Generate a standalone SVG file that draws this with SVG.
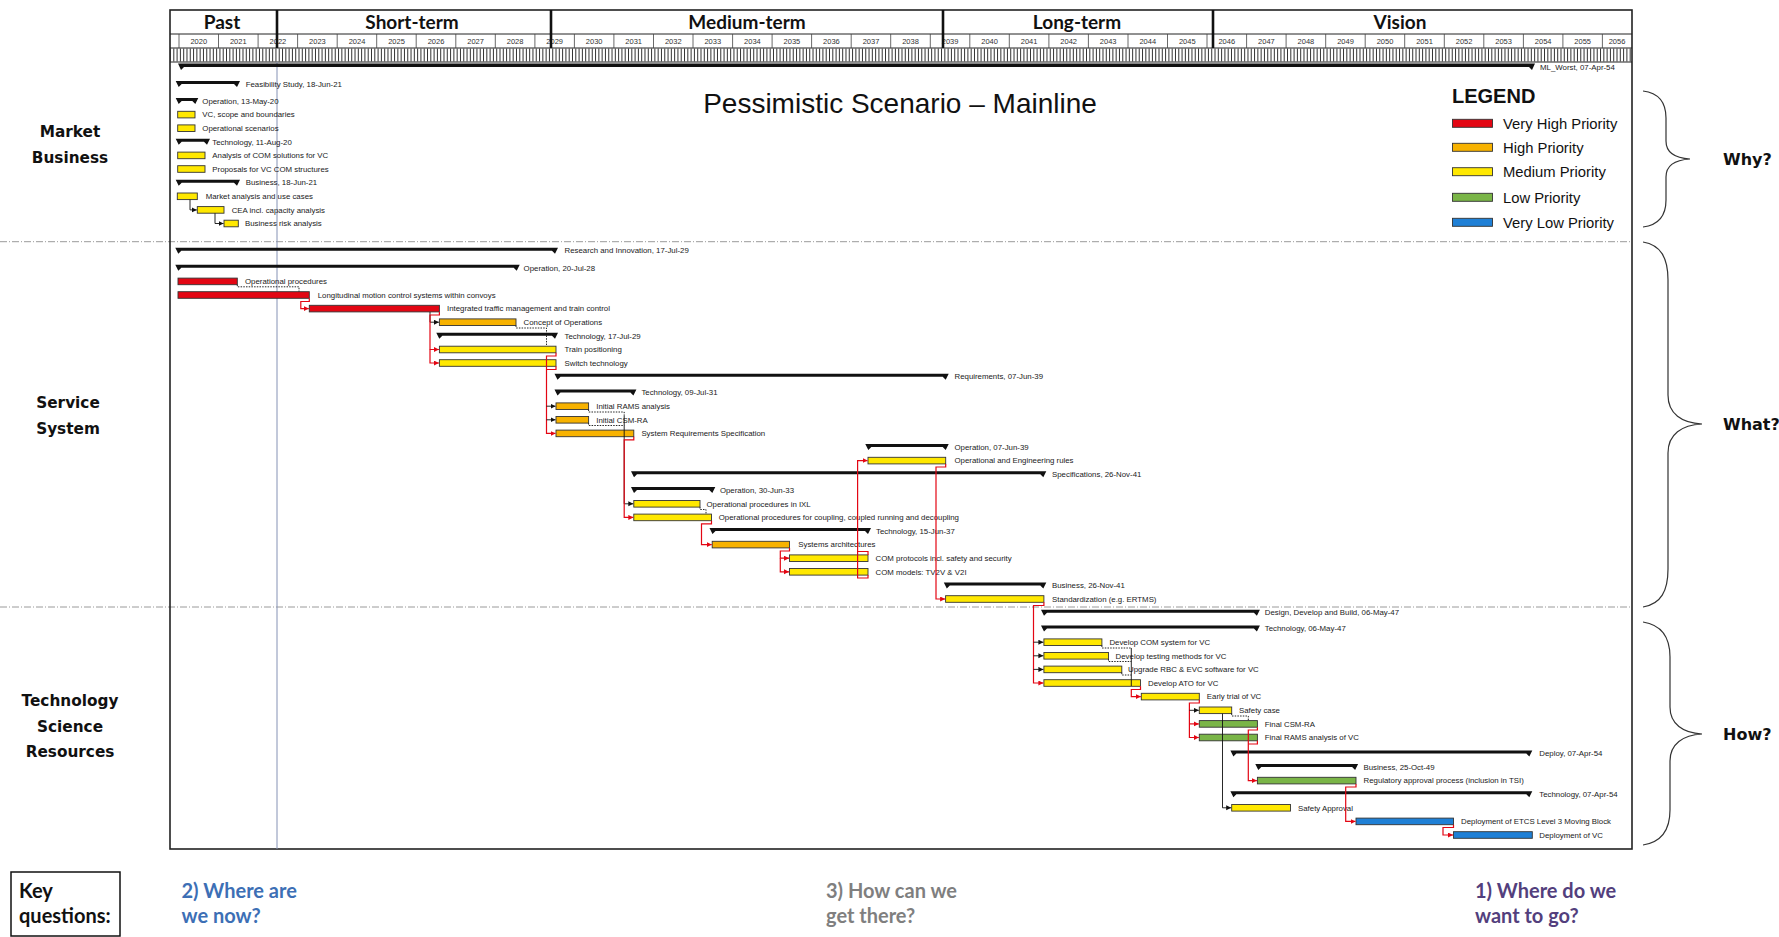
<svg xmlns="http://www.w3.org/2000/svg" width="1779" height="937" viewBox="0 0 1779 937">
<defs>
<marker id="ar" markerUnits="userSpaceOnUse" markerWidth="6" markerHeight="6" refX="5" refY="2.5" orient="auto"><path d="M0,0 L5,2.5 L0,5 Z" fill="#e30613"/></marker>
<marker id="ab" markerUnits="userSpaceOnUse" markerWidth="6" markerHeight="6" refX="5" refY="2.5" orient="auto"><path d="M0,0 L5,2.5 L0,5 Z" fill="#111"/></marker>
</defs>
<style>
.t{font-family:"Liberation Sans",Arial,sans-serif;font-size:7.85px;fill:#1a1a1a}
.yr{font-family:"Liberation Sans",Arial,sans-serif;font-size:7.5px;fill:#333;text-anchor:middle}
.ph{font-family:Lato,"Open Sans",sans-serif;font-weight:700;font-size:19px;fill:#111;text-anchor:middle}
.sec{font-family:"DejaVu Sans",Verdana,sans-serif;font-weight:700;font-size:15.3px;fill:#111;text-anchor:middle}
.q{font-family:"DejaVu Sans",Verdana,sans-serif;font-weight:700;font-size:16px;fill:#111}
.kq{font-family:Lato,"Open Sans",sans-serif;font-weight:700;font-size:20px}
.lg{font-family:"Liberation Sans",Arial,sans-serif;font-size:14.8px;fill:#111}
.sm{fill:#111}
.bar{stroke:#333;stroke-width:0.9}
.r{fill:#e30613}.o{fill:#f7b200}.y{fill:#ffe800}.g{fill:#7ab547}.b{fill:#1f80d6}
.lr{fill:none;stroke:#e30613;stroke-width:1.2;marker-end:url(#ar)}
.lrn{fill:none;stroke:#e30613;stroke-width:1.2}
.lb{fill:none;stroke:#111;stroke-width:0.9;marker-end:url(#ab)}
.lbn{fill:none;stroke:#111;stroke-width:0.9}
.ld{fill:none;stroke:#111;stroke-width:0.9;stroke-dasharray:1.5 1.2}
.dv{stroke:#9a9a9a;stroke-width:1;stroke-dasharray:7 2 1 2}
.br{fill:none;stroke:#333;stroke-width:1.2}
</style>
<rect width="1779" height="937" fill="#fff"/>

<!-- section dividers -->
<line class="dv" x1="0" y1="241.7" x2="1632" y2="241.7"/>
<line class="dv" x1="0" y1="607" x2="1632" y2="607"/>

<!-- timescale header -->
<g id="timescale">
<rect x="170" y="10" width="1462" height="839" fill="none" stroke="#222" stroke-width="1.6"/>
<line x1="170" y1="34" x2="1632" y2="34" stroke="#222" stroke-width="1"/>
<line x1="170" y1="48" x2="1632" y2="48" stroke="#222" stroke-width="1"/>
<line x1="170" y1="62" x2="1632" y2="62" stroke="#222" stroke-width="1"/>
<line x1="170" y1="55" x2="1632" y2="55" stroke="#333" stroke-width="13" stroke-dasharray="1 2.295"/>
<g stroke="#444" stroke-width="0.8">
<line x1="179" y1="34" x2="179" y2="48"/><line x1="218.5" y1="34" x2="218.5" y2="48"/><line x1="258.1" y1="34" x2="258.1" y2="48"/><line x1="297.6" y1="34" x2="297.6" y2="48"/><line x1="337.2" y1="34" x2="337.2" y2="48"/><line x1="376.7" y1="34" x2="376.7" y2="48"/><line x1="416.2" y1="34" x2="416.2" y2="48"/><line x1="455.8" y1="34" x2="455.8" y2="48"/><line x1="495.3" y1="34" x2="495.3" y2="48"/><line x1="534.9" y1="34" x2="534.9" y2="48"/><line x1="574.4" y1="34" x2="574.4" y2="48"/><line x1="613.9" y1="34" x2="613.9" y2="48"/><line x1="653.5" y1="34" x2="653.5" y2="48"/><line x1="693" y1="34" x2="693" y2="48"/><line x1="732.6" y1="34" x2="732.6" y2="48"/><line x1="772.1" y1="34" x2="772.1" y2="48"/><line x1="811.6" y1="34" x2="811.6" y2="48"/><line x1="851.2" y1="34" x2="851.2" y2="48"/><line x1="890.7" y1="34" x2="890.7" y2="48"/><line x1="930.3" y1="34" x2="930.3" y2="48"/><line x1="969.8" y1="34" x2="969.8" y2="48"/><line x1="1009.3" y1="34" x2="1009.3" y2="48"/><line x1="1048.9" y1="34" x2="1048.9" y2="48"/><line x1="1088.4" y1="34" x2="1088.4" y2="48"/><line x1="1128" y1="34" x2="1128" y2="48"/><line x1="1167.5" y1="34" x2="1167.5" y2="48"/><line x1="1207" y1="34" x2="1207" y2="48"/><line x1="1246.6" y1="34" x2="1246.6" y2="48"/><line x1="1286.1" y1="34" x2="1286.1" y2="48"/><line x1="1325.7" y1="34" x2="1325.7" y2="48"/><line x1="1365.2" y1="34" x2="1365.2" y2="48"/><line x1="1404.7" y1="34" x2="1404.7" y2="48"/><line x1="1444.3" y1="34" x2="1444.3" y2="48"/><line x1="1483.8" y1="34" x2="1483.8" y2="48"/><line x1="1523.4" y1="34" x2="1523.4" y2="48"/><line x1="1562.9" y1="34" x2="1562.9" y2="48"/><line x1="1602.4" y1="34" x2="1602.4" y2="48"/>
</g>
<g class="yr">
<text x="198.8" y="44">2020</text><text x="238.3" y="44">2021</text><text x="277.9" y="44">2022</text><text x="317.4" y="44">2023</text><text x="357" y="44">2024</text><text x="396.5" y="44">2025</text><text x="436" y="44">2026</text><text x="475.6" y="44">2027</text><text x="515.1" y="44">2028</text><text x="554.7" y="44">2029</text><text x="594.2" y="44">2030</text><text x="633.7" y="44">2031</text><text x="673.3" y="44">2032</text><text x="712.8" y="44">2033</text><text x="752.4" y="44">2034</text><text x="791.9" y="44">2035</text><text x="831.4" y="44">2036</text><text x="871" y="44">2037</text><text x="910.5" y="44">2038</text><text x="950.1" y="44">2039</text><text x="989.6" y="44">2040</text><text x="1029.1" y="44">2041</text><text x="1068.7" y="44">2042</text><text x="1108.2" y="44">2043</text><text x="1147.8" y="44">2044</text><text x="1187.3" y="44">2045</text><text x="1226.8" y="44">2046</text><text x="1266.4" y="44">2047</text><text x="1305.9" y="44">2048</text><text x="1345.5" y="44">2049</text><text x="1385" y="44">2050</text><text x="1424.5" y="44">2051</text><text x="1464.1" y="44">2052</text><text x="1503.6" y="44">2053</text><text x="1543.2" y="44">2054</text><text x="1582.7" y="44">2055</text><text x="1617" y="44">2056</text>
</g>
<g stroke="#111" stroke-width="2.6">
<line x1="277" y1="10" x2="277" y2="48"/><line x1="551" y1="10" x2="551" y2="48"/><line x1="943" y1="10" x2="943" y2="48"/><line x1="1213" y1="10" x2="1213" y2="48"/>
</g>
<text class="ph" x="222" y="29">Past</text>
<text class="ph" x="412" y="29">Short-term</text>
<text class="ph" x="747" y="29">Medium-term</text>
<text class="ph" x="1077" y="29">Long-term</text>
<text class="ph" x="1400" y="29">Vision</text>
<line x1="277" y1="62" x2="277" y2="849" stroke="#8592b5" stroke-width="1"/>
</g>

<text x="900" y="113" text-anchor="middle" font-family="Liberation Sans, Arial, sans-serif" font-size="28" fill="#111">Pessimistic Scenario – Mainline</text>

<g id="legend">
<text x="1452" y="103" font-family="Liberation Sans, Arial, sans-serif" font-weight="700" font-size="20" fill="#111">LEGEND</text>
<rect class="bar r" x="1452.5" y="119.3" width="40" height="8"/><text class="lg" x="1503" y="128.5">Very High Priority</text>
<rect class="bar o" x="1452.5" y="143.3" width="40" height="8"/><text class="lg" x="1503" y="152.5">High Priority</text>
<rect class="bar y" x="1452.5" y="167.7" width="40" height="8"/><text class="lg" x="1503" y="176.9">Medium Priority</text>
<rect class="bar g" x="1452.5" y="193.3" width="40" height="8"/><text class="lg" x="1503" y="202.5">Low Priority</text>
<rect class="bar b" x="1452.5" y="218.3" width="40" height="8"/><text class="lg" x="1503" y="227.5">Very Low Priority</text>
</g>

<!-- left section labels -->
<g id="sec-market"><text class="sec" x="70" y="137">Market</text><text class="sec" x="70" y="163">Business</text></g>
<g id="sec-service"><text class="sec" x="68" y="408">Service</text><text class="sec" x="68" y="434">System</text></g>
<g id="sec-tech"><text class="sec" x="70" y="705.5">Technology</text><text class="sec" x="70" y="731.5">Science</text><text class="sec" x="70" y="756.5">Resources</text></g>

<!-- braces -->
<g id="why"><path class="br" d="M1643,91 C1659,93 1666,103 1666,118 L1666,141 C1666,152 1674,158 1690,159 C1674,160 1666,166 1666,177 L1666,200 C1666,215 1659,225 1643,227"/><text class="q" x="1723" y="165">Why?</text></g>
<g id="what"><path class="br" d="M1643,242 C1661,245 1668,258 1668,280 L1668,395 C1668,414 1682,423 1702,424 C1682,425 1668,434 1668,453 L1668,569 C1668,591 1661,604 1643,607"/><text class="q" x="1723" y="430">What?</text></g>
<g id="how"><path class="br" d="M1643,622 C1662,625 1670,637 1670,657 L1670,707 C1670,724 1683,733 1702,734 C1683,735 1670,744 1670,761 L1670,810 C1670,830 1662,842 1643,845"/><text class="q" x="1723" y="740">How?</text></g>

<!-- key questions -->
<g id="key"><rect x="11" y="872" width="109" height="64" fill="none" stroke="#111" stroke-width="1.5"/><text class="kq" x="19" y="898" fill="#111">Key</text><text class="kq" x="19" y="923" fill="#111">questions:</text></g>
<g id="q2"><text class="kq" x="181.5" y="898" fill="#3d6fb5">2) Where are</text><text class="kq" x="181.5" y="923" fill="#3d6fb5">we now?</text></g>
<g id="q3"><text class="kq" x="826" y="898" fill="#7f7f7f">3) How can we</text><text class="kq" x="826" y="923" fill="#7f7f7f">get there?</text></g>
<g id="q1"><text class="kq" x="1475" y="898" fill="#533f7d">1) Where do we</text><text class="kq" x="1475" y="923" fill="#533f7d">want to go?</text></g>

<!-- MARKET / BUSINESS tasks -->
<g id="ml"><path class="sm" d="M178,63.5 H1535 L1532,70 L1529,67 H184 L181,70 Z"/><text class="t" x="1540" y="69.7">ML_Worst, 07-Apr-54</text></g>
<g id="feas"><path class="sm" d="M175.7,81 H240 L237,87 L234,84 H181.7 L178.7,87 Z"/><text class="t" x="245.7" y="86.7">Feasibility Study, 18-Jun-21</text></g>
<g id="op20"><path class="sm" d="M175.7,98 H198.3 L195.3,104 L192.3,101 H181.7 L178.7,104 Z"/><text class="t" x="202.3" y="103.7">Operation, 13-May-20</text></g>
<g id="vcscope"><rect class="bar y" x="177.7" y="111.3" width="17.3" height="6.6"/><text class="t" x="202.3" y="117.3">VC, scope and boundaries</text></g>
<g id="opscen"><rect class="bar y" x="177.7" y="124.9" width="17.3" height="6.6"/><text class="t" x="202.3" y="130.9">Operational scenarios</text></g>
<g id="tech20"><path class="sm" d="M175.7,138.8 H210 L207,144.8 L204,141.8 H181.7 L178.7,144.8 Z"/><text class="t" x="212.3" y="144.5">Technology, 11-Aug-20</text></g>
<g id="comsol"><rect class="bar y" x="177.7" y="152.1" width="27.3" height="6.6"/><text class="t" x="212.3" y="158.1">Analysis of COM solutions for VC</text></g>
<g id="comstruct"><rect class="bar y" x="177.7" y="165.7" width="27.3" height="6.6"/><text class="t" x="212.3" y="171.7">Proposals for VC COM structures</text></g>
<g id="bus21"><path class="sm" d="M175.7,179.7 H240 L237,185.7 L234,182.7 H181.7 L178.7,185.7 Z"/><text class="t" x="245.7" y="185.4">Business, 18-Jun-21</text></g>
<g id="market"><rect class="bar y" x="177.3" y="193" width="20" height="6.6"/><text class="t" x="205.7" y="199">Market analysis and use cases</text></g>
<g id="cea"><rect class="bar y" x="197.3" y="206.6" width="26.7" height="6.6"/><text class="t" x="231.7" y="212.6">CEA incl. capacity analysis</text></g>
<g id="busrisk"><rect class="bar y" x="224" y="220.2" width="14.3" height="6.6"/><text class="t" x="245" y="226.2">Business risk analysis</text></g>

<!-- SERVICE / SYSTEM tasks -->
<g id="rni"><path class="sm" d="M175.3,247.7 H558 L555,253.7 L552,250.7 H181.3 L178.3,253.7 Z"/><text class="t" x="564.5" y="253.4">Research and Innovation, 17-Jul-29</text></g>
<g id="op28"><path class="sm" d="M175.3,264.8 H519.7 L516.7,270.8 L513.7,267.8 H181.3 L178.3,270.8 Z"/><text class="t" x="523.6" y="270.5">Operation, 20-Jul-28</text></g>
<g id="opproc"><rect class="bar r" x="178" y="278.1" width="59.3" height="6.6"/><text class="t" x="245" y="284.1">Operational procedures</text></g>
<g id="longit"><rect class="bar r" x="178" y="291.7" width="131.3" height="6.6"/><text class="t" x="317.7" y="297.7">Longitudinal motion control systems within convoys</text></g>
<g id="itm"><rect class="bar r" x="309.3" y="305.3" width="130.1" height="6.6"/><text class="t" x="447" y="311.3">Integrated traffic management and train control</text></g>
<g id="conops"><rect class="bar o" x="439.4" y="318.9" width="76.6" height="6.6"/><text class="t" x="523.6" y="324.9">Concept of Operations</text></g>
<g id="tech29"><path class="sm" d="M436.3,332.8 H558 L555,338.8 L552,335.8 H442.3 L439.3,338.8 Z"/><text class="t" x="564.5" y="338.5">Technology, 17-Jul-29</text></g>
<g id="trainpos"><rect class="bar y" x="439.4" y="346.2" width="116.6" height="6.6"/><text class="t" x="564.5" y="352.2">Train positioning</text></g>
<g id="switch"><rect class="bar y" x="439.4" y="359.7" width="116.6" height="6.6"/><text class="t" x="564.5" y="365.7">Switch technology</text></g>
<g id="req39"><path class="sm" d="M554.5,373.7 H948.7 L945.7,379.7 L942.7,376.7 H560.5 L557.5,379.7 Z"/><text class="t" x="954.5" y="379.4">Requirements, 07-Jun-39</text></g>
<g id="tech31"><path class="sm" d="M554.5,389.6 H636.4 L633.4,395.6 L630.4,392.6 H560.5 L557.5,395.6 Z"/><text class="t" x="641.4" y="395.3">Technology, 09-Jul-31</text></g>
<g id="rams1"><rect class="bar o" x="556" y="402.9" width="32.6" height="6.6"/><text class="t" x="596.3" y="408.9">Initial RAMS analysis</text></g>
<g id="csm1"><rect class="bar o" x="556" y="416.5" width="32.6" height="6.6"/><text class="t" x="596.3" y="422.5">Initial CSM-RA</text></g>
<g id="srs"><rect class="bar o" x="556" y="430.1" width="77.8" height="6.6"/><text class="t" x="641.4" y="436.1">System Requirements Specification</text></g>
<g id="op39"><path class="sm" d="M865.3,444 H948.7 L945.7,450 L942.7,447 H871.3 L868.3,450 Z"/><text class="t" x="954.5" y="449.7">Operation, 07-Jun-39</text></g>
<g id="oprules"><rect class="bar y" x="868" y="457.3" width="77.7" height="6.6"/><text class="t" x="954.5" y="463.3">Operational and Engineering rules</text></g>
<g id="spec41"><path class="sm" d="M631,471.3 H1046.3 L1043.3,477.3 L1040.3,474.3 H637 L634,477.3 Z"/><text class="t" x="1052" y="477">Specifications, 26-Nov-41</text></g>
<g id="op33"><path class="sm" d="M631,487 H715.3 L712.3,493 L709.3,490 H637 L634,493 Z"/><text class="t" x="719.9" y="492.7">Operation, 30-Jun-33</text></g>
<g id="ixl"><rect class="bar y" x="633.8" y="500.5" width="66.2" height="6.6"/><text class="t" x="706.5" y="506.5">Operational procedures in IXL</text></g>
<g id="coupling"><rect class="bar y" x="633.8" y="514.1" width="77.7" height="6.6"/><text class="t" x="718.7" y="520.1">Operational procedures for coupling, coupled running and decoupling</text></g>
<g id="tech37"><path class="sm" d="M709.5,528 H871 L868,534 L865,531 H715.5 L712.5,534 Z"/><text class="t" x="876" y="533.7">Technology, 15-Jun-37</text></g>
<g id="sysarch"><rect class="bar o" x="712.2" y="541.3" width="77.3" height="6.6"/><text class="t" x="798.3" y="547.3">Systems architectures</text></g>
<g id="comprot"><rect class="bar y" x="789.5" y="554.9" width="78.5" height="6.6"/><text class="t" x="875.6" y="560.9">COM protocols incl. safety and security</text></g>
<g id="commod"><rect class="bar y" x="789.5" y="568.5" width="78.5" height="6.6"/><text class="t" x="875.6" y="574.5">COM models: TV2V &amp; V2I</text></g>
<g id="bus41"><path class="sm" d="M943.8,582.5 H1046.3 L1043.3,588.5 L1040.3,585.5 H949.8 L946.8,588.5 Z"/><text class="t" x="1052" y="588.2">Business, 26-Nov-41</text></g>
<g id="std"><rect class="bar y" x="945.6" y="595.7" width="98.3" height="6.6"/><text class="t" x="1052" y="601.7">Standardization (e.g. ERTMS)</text></g>

<!-- TECHNOLOGY / SCIENCE / RESOURCES tasks -->
<g id="ddb47"><path class="sm" d="M1041,609.7 H1259.9 L1256.9,615.7 L1253.9,612.7 H1047 L1044,615.7 Z"/><text class="t" x="1264.8" y="615.4">Design, Develop and Build, 06-May-47</text></g>
<g id="tech47"><path class="sm" d="M1041,625.6 H1259.9 L1256.9,631.6 L1253.9,628.6 H1047 L1044,631.6 Z"/><text class="t" x="1264.8" y="631.3">Technology, 06-May-47</text></g>
<g id="devcom"><rect class="bar y" x="1043.9" y="638.9" width="58" height="6.6"/><text class="t" x="1109.4" y="644.9">Develop COM system for VC</text></g>
<g id="devtest"><rect class="bar y" x="1043.9" y="652.5" width="64.6" height="6.6"/><text class="t" x="1115.6" y="658.5">Develop testing methods for VC</text></g>
<g id="rbc"><rect class="bar y" x="1043.9" y="666.1" width="77.9" height="6.6"/><text class="t" x="1128" y="672.1">Upgrade RBC &amp; EVC software for VC</text></g>
<g id="ato"><rect class="bar y" x="1043.9" y="679.7" width="96.6" height="6.6"/><text class="t" x="1148" y="685.7">Develop ATO for VC</text></g>
<g id="trial"><rect class="bar y" x="1141.3" y="693.3" width="58" height="6.6"/><text class="t" x="1206.8" y="699.3">Early trial of VC</text></g>
<g id="safecase"><rect class="bar y" x="1199.3" y="707" width="32.4" height="6.6"/><text class="t" x="1239" y="713">Safety case</text></g>
<g id="csmf"><rect class="bar g" x="1199.3" y="720.6" width="58.1" height="6.6"/><text class="t" x="1264.8" y="726.6">Final CSM-RA</text></g>
<g id="ramsf"><rect class="bar g" x="1199.3" y="734.2" width="58.1" height="6.6"/><text class="t" x="1264.8" y="740.2">Final RAMS analysis of VC</text></g>
<g id="deploy54"><path class="sm" d="M1230.4,750.4 H1532.3 L1529.3,756.4 L1526.3,753.4 H1236.4 L1233.4,756.4 Z"/><text class="t" x="1539.3" y="756.1">Deploy, 07-Apr-54</text></g>
<g id="bus49"><path class="sm" d="M1255.3,764 H1358.1 L1355.1,770 L1352.1,767 H1261.3 L1258.3,770 Z"/><text class="t" x="1363.5" y="769.7">Business, 25-Oct-49</text></g>
<g id="regap"><rect class="bar g" x="1257.4" y="777.3" width="98.6" height="6.6"/><text class="t" x="1363.5" y="783.3">Regulatory approval process (inclusion in TSI)</text></g>
<g id="tech54"><path class="sm" d="M1230.4,791.2 H1532.3 L1529.3,797.2 L1526.3,794.2 H1236.4 L1233.4,797.2 Z"/><text class="t" x="1539.3" y="796.9">Technology, 07-Apr-54</text></g>
<g id="safeapp"><rect class="bar y" x="1231.7" y="804.5" width="58.8" height="6.6"/><text class="t" x="1298" y="810.5">Safety Approval</text></g>
<g id="etcs"><rect class="bar b" x="1356" y="818.1" width="97.5" height="6.6"/><text class="t" x="1461" y="824.1">Deployment of ETCS Level 3 Moving Block</text></g>
<g id="depvc"><rect class="bar b" x="1453.5" y="831.7" width="78.8" height="6.6"/><text class="t" x="1539.3" y="837.7">Deployment of VC</text></g>

<!-- connectors -->
<g id="connectors">
<path class="lb" d="M190,199.6 V209.9 H196.8"/>
<path class="lb" d="M215,213.2 V223.5 H223.5"/>
<path class="ld" d="M237.3,284.7 V286.8 H299 V291.5"/>
<path class="lr" d="M309.3,298.3 V301.5 H300.8 V308.6 H308.8"/>
<path class="lb" d="M430,312 V322.2 H438.9"/>
<path class="lr" d="M439.4,311.9 V315 H430 V349.5 H438.9"/>
<path class="lr" d="M430,349.5 V363 H438.9"/>
<path class="ld" d="M516,325.5 V328 H546.5 V345"/>
<path class="lr" d="M556,352.8 V356 H546.5 V433.4 H555.5"/>
<path class="lrn" d="M556,366.3 V369.5 H546.5"/>
<path class="lb" d="M546.5,406.2 H555.5"/>
<path class="lb" d="M546.5,419.8 H555.5"/>
<path class="ld" d="M588.6,409.5 V412 H624.2 V416"/>
<path class="ld" d="M588.6,423.1 V425.5 H624.2"/>
<path class="lb" d="M624.2,416 V503.8 H633.3"/>
<path class="lr" d="M633.8,436.7 V439.8 H624.2 V517.4 H633.3"/>
<path class="ld" d="M700,507.1 V509.5 H706 V514"/>
<path class="lr" d="M711.5,520.7 V523.8 H701.5 V544.6 H711.7"/>
<path class="lr" d="M789.5,547.9 V551 H780.3 V558.2 H789"/>
<path class="lr" d="M780.3,558.2 V571.8 H789"/>
<path class="lrn" d="M868,554.9 V551.5 H857.6"/>
<path class="lr" d="M868,575.1 V578 H857.6 V460.6 H867.5"/>
<path class="lr" d="M945.7,463.9 V467 H936 V599 H945.1"/>
<path class="lr" d="M1043.9,602.3 V605.5 H1033.5 V683 H1043.4"/>
<path class="lb" d="M1033.5,642.2 H1043.4"/>
<path class="lb" d="M1033.5,655.8 H1043.4"/>
<path class="lb" d="M1033.5,669.4 H1043.4"/>
<path class="ld" d="M1101.9,645.5 V648 H1131.3"/>
<path class="ld" d="M1108.5,659.1 V661.5 H1131.3"/>
<path class="ld" d="M1121.8,672.7 V675 H1131.3"/>
<path class="lbn" d="M1131.3,648 V686"/>
<path class="lr" d="M1140.5,686.3 V689.5 H1131.3 V696.6 H1140.8"/>
<path class="lr" d="M1199.3,699.9 V703 H1189.4 V737.5 H1198.8"/>
<path class="lr" d="M1189.4,723.9 H1198.8"/>
<path class="lb" d="M1189.4,710.3 H1198.8"/>
<path class="lb" d="M1222.5,713.6 V807.8 H1231.2"/>
<path class="ld" d="M1231.7,713.6 V716 H1248.3 V720.4"/>
<path class="lr" d="M1257.4,727.2 V730 H1248.3 V780.6 H1256.9"/>
<path class="lrn" d="M1257.4,740.8 V744 H1248.3"/>
<path class="lr" d="M1356,783.9 V787 H1345.7 V821.4 H1355.5"/>
<path class="lr" d="M1453.5,824.7 V827.5 H1443 V835 H1453"/>
</g>
</svg>
